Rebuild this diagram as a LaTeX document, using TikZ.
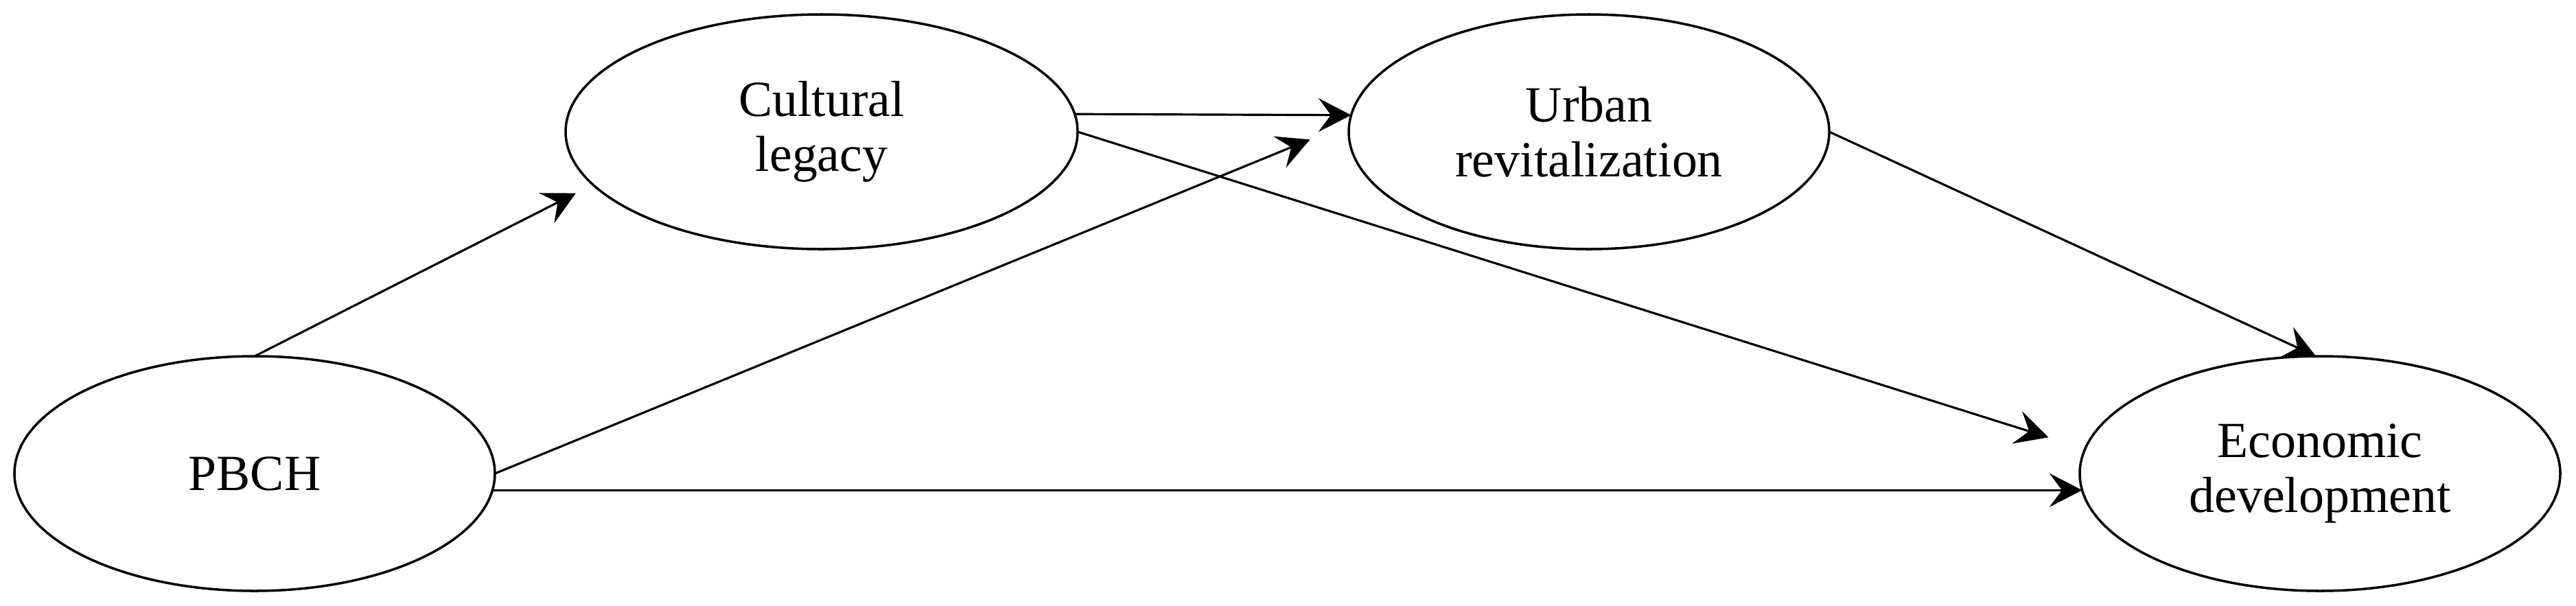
\documentclass[tikz,border=0pt]{standalone}
\usepackage{fontspec}
\setmainfont{Liberation Serif}
\usetikzlibrary{shapes.geometric,arrows.meta}

\begin{document}
\begin{tikzpicture}[
  latent/.style={ellipse, draw, line width=0.5pt, inner sep=0pt, outer sep=0pt,
    minimum width=3.5cm, minimum height=1.71cm, align=center,
    font=\fontsize{10.5}{11.4}\selectfont},
  path/.style={-{Stealth[length=6.8pt, width=7pt, inset=2.6pt]}, line width=0.45pt}]
\useasboundingbox (0, 0) rectangle (18.765, 4.41);

\node[latent] (pbch) at (1.855, 0.96) {PBCH};
\node[latent, minimum width=3.73cm] (legacy) at (5.985, 3.45) {Cultural\\legacy};
\node[latent] (urban) at (11.575, 3.45) {Urban\\revitalization};
\node[latent] (econ) at (16.9, 0.96) {Economic\\development};

\draw[path, shorten >=0.14cm] (pbch.north) -- (legacy.193);
\draw[path, shorten >=0.31cm] (pbch.east) -- (urban.178);
\draw[path] (pbch.-4.5) -- (econ.184.5);

\draw[path] (legacy.4) -- (urban.176);
\draw[path, shorten >=0.28cm] (legacy.east) -- (econ.174);

\draw[path] (urban.east) -- (econ.92);

\end{tikzpicture}
\end{document}
